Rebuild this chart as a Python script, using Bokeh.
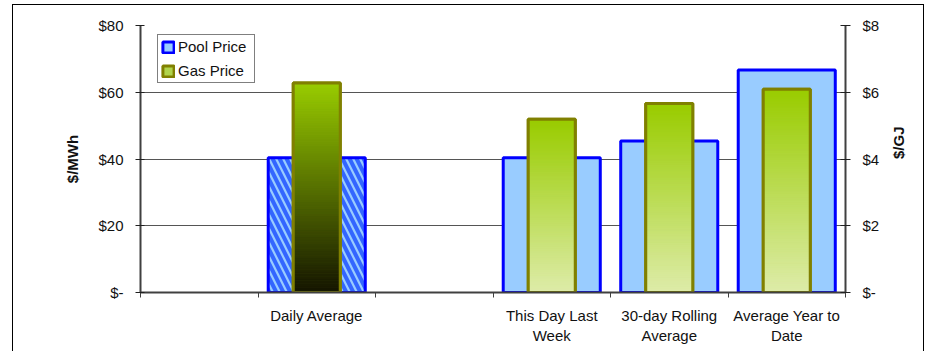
import math
from bokeh.plotting import figure
from bokeh.models import Range1d, LinearAxis, FixedTicker, Legend, LegendItem, ColumnDataSource
from bokeh.embed import file_html
from bokeh.resources import INLINE

# ---- data ----
slot_labels = ["", "Daily Average", "", "This Day Last\nWeek", "30-day Rolling\nAverage", "Average Year to\nDate"]
pool_price = [None, 40.4, None, 40.4, 45.4, 66.7]      # $/MWh
gas_price = [None, 6.28, None, 5.19, 5.66, 6.09]       # $/GJ
hatched = [False, True, False, False, False, False]
gas_bottom_color = [None, "#141400", None, "#DEECAA", "#DEECAA", "#DEECAA"]
left_ticks = [0, 20, 40, 60, 80]
right_ticks = [0, 2, 4, 6, 8]

FONT = "Liberation Sans"
GAS_TOP = "#99CC00"
TXT = "#111111"

def money(v):
    return "$-" if v == 0 else "$%d" % v

def hex2rgb(h):
    h = h.lstrip("#")
    return [int(h[i:i + 2], 16) for i in (0, 2, 4)]

def mix(c1, c2, t):
    a, b = hex2rgb(c1), hex2rgb(c2)
    return "#%02x%02x%02x" % tuple(int(round(a[i] + (b[i] - a[i]) * t)) for i in range(3))

n = len(slot_labels)
p = figure(width=912, height=347, x_range=Range1d(-0.5, n - 0.5), y_range=Range1d(0, 80),
           output_backend="svg", toolbar_location=None,
           min_border_left=127, min_border_right=80, min_border_top=20, min_border_bottom=60)
p.margin = (4, 0, 0, 12)
p.styles = {"border-top": "1px solid black", "border-left": "1px solid black",
            "border-right": "1px solid black"}
p.outline_line_color = None
p.background_fill_color = "white"
p.border_fill_color = "white"

p.extra_y_ranges = {"gj": Range1d(0, 8)}

# ---- axes ----
centers = [i for i, s in enumerate(slot_labels) if s]
xa = p.xaxis[0]
xa.ticker = FixedTicker(ticks=centers, minor_ticks=[i - 0.5 for i in range(n + 1)])
xa.major_label_overrides = {i: slot_labels[i] for i in centers}
xa.major_tick_out = 0
xa.major_tick_in = 0
xa.minor_tick_out = 5
xa.minor_tick_in = 0
xa.minor_tick_line_color = "#404040"
xa.axis_line_color = "#404040"
xa.axis_line_width = 2
xa.major_label_standoff = 9
xa.major_label_text_font = FONT
xa.major_label_text_font_size = "15px"
xa.major_label_text_color = TXT

ya = p.yaxis[0]
ya.ticker = FixedTicker(ticks=left_ticks)
ya.major_label_overrides = {v: money(v) for v in left_ticks}
ya.minor_tick_line_color = None
ya.major_tick_in = 4
ya.major_tick_out = 5
ya.major_tick_line_color = "#202020"
ya.axis_line_color = "#404040"
ya.axis_line_width = 2
ya.major_label_standoff = 12
ya.major_label_text_font = FONT
ya.major_label_text_font_size = "15px"
ya.major_label_text_color = TXT
ya.axis_label = "$/MWh"
ya.axis_label_text_font = FONT
ya.axis_label_text_font_size = "15px"
ya.axis_label_text_font_style = "bold"
ya.axis_label_text_color = TXT
ya.axis_label_standoff = 14

ra = LinearAxis(y_range_name="gj", ticker=FixedTicker(ticks=right_ticks))
ra.major_label_overrides = {v: money(v) for v in right_ticks}
ra.minor_tick_line_color = None
ra.major_tick_in = 5
ra.major_tick_out = 5
ra.major_tick_line_color = "#202020"
ra.axis_line_color = "#404040"
ra.axis_line_width = 2
ra.major_label_standoff = 12
ra.major_label_text_font = FONT
ra.major_label_text_font_size = "15px"
ra.major_label_text_color = TXT
ra.axis_label = "$/GJ"
ra.axis_label_text_font = FONT
ra.axis_label_text_font_size = "15px"
ra.axis_label_text_font_style = "bold"
ra.axis_label_text_color = TXT
ra.axis_label_standoff = 16
ra.axis_label_orientation = math.pi / 2
p.add_layout(ra, "right")

p.xgrid.visible = False
p.ygrid.ticker = FixedTicker(ticks=left_ticks)
p.ygrid.grid_line_color = "#555555"
p.ygrid.grid_line_width = 1

# ---- pool bars ----
plain = dict(x=[], top=[])
hat = dict(x=[], top=[])
for i, v in enumerate(pool_price):
    if v is None:
        continue
    d = hat if hatched[i] else plain
    d["x"].append(i)
    d["top"].append(v)

pool_r = p.vbar(x="x", top="top", bottom=0, width=0.826, source=ColumnDataSource(plain),
                fill_color="#99CCFF", line_color="#0000FF", line_width=3)
p.vbar(x="x", top="top", bottom=0, width=0.826, source=ColumnDataSource(hat),
       fill_color="#3366FF", line_color="#0000FF", line_width=3,
       hatch_pattern="\\", hatch_color="#99CCFF", hatch_scale=14, hatch_weight=2.2)

# ---- gas bars (gradient) ----
N = 90
gw = 0.40
sl = dict(left=[], right=[], bottom=[], top=[], color=[])
out = dict(x=[], top=[])
for i, v in enumerate(gas_price):
    if v is None:
        continue
    out["x"].append(i)
    out["top"].append(v)
    for k in range(N):
        sl["left"].append(i - gw / 2)
        sl["right"].append(i + gw / 2)
        sl["bottom"].append(v * k / N)
        sl["top"].append(v * (k + 1) / N)
        sl["color"].append(mix(gas_bottom_color[i], GAS_TOP, (k + 0.5) / N))

out_src = ColumnDataSource(out)
gas_r = p.vbar(x="x", top="top", bottom=0, width=gw, source=out_src,
               fill_color="#B0D44C", line_color="#808000", line_width=3, y_range_name="gj")
p.quad(left="left", right="right", bottom="bottom", top="top", source=ColumnDataSource(sl),
       fill_color="color", line_color="color", line_width=1, y_range_name="gj")
p.vbar(x="x", top="top", bottom=0, width=gw, source=out_src,
       fill_color=None, line_color="#808000", line_width=3, y_range_name="gj")

# ---- legend ----
legend = Legend(items=[LegendItem(label="Pool Price", renderers=[pool_r]),
                       LegendItem(label="Gas Price", renderers=[gas_r])],
                location=(17, 209), orientation="vertical")
legend.glyph_width = 14
legend.glyph_height = 14
legend.label_height = 16
legend.label_width = 73
legend.label_standoff = 3
legend.spacing = 7
legend.padding = 3
legend.margin = 0
legend.border_line_color = "black"
legend.border_line_width = 1
legend.background_fill_color = "white"
legend.background_fill_alpha = 1
legend.label_text_font = FONT
legend.label_text_font_size = "15px"
legend.label_text_color = TXT
p.add_layout(legend)

open("out.html", "w").write(file_html(p, INLINE))
